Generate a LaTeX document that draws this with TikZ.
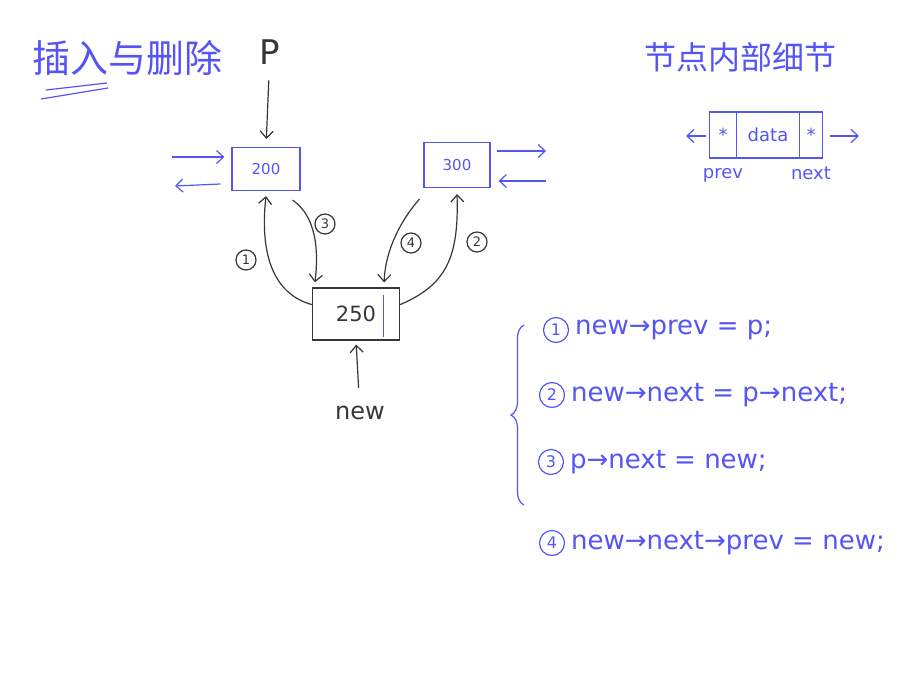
\documentclass[tikz,border=0pt]{standalone}
\usepackage{fontspec}
\setmainfont{DejaVu Sans}
\newfontfamily\cjkfont{Noto Sans CJK SC}
\usetikzlibrary{arrows.meta, positioning, calc, decorations.pathreplacing}
\definecolor{ink}{RGB}{85,85,245}
\definecolor{pencil}{RGB}{55,55,55}

\begin{document}
\begin{tikzpicture}[
  x=1pt, y=-1pt,
  >={Straight Barb[length=7pt,width=13pt]},
  line width=1.2pt,
  listbox/.style={
    draw=ink,
    text=ink,
    font=\fontsize{15}{17}\selectfont,
    minimum width=68pt,
    minimum height=43pt
  },
  newbox/.style={
    draw=pencil,
    text=pencil,
    font=\fontsize{21}{23}\selectfont,
    minimum width=87pt,
    minimum height=52pt
  },
  cell/.style={
    draw=ink,
    text=ink,
    font=\fontsize{18}{20}\selectfont,
    minimum height=46pt,
    inner sep=0pt,
    outer sep=0pt
  },
  stepmark/.style={circle, draw=pencil, text=pencil, inner sep=0pt, minimum size=20pt,
    font=\fontsize{13}{14}\selectfont},
  stepblue/.style={circle, draw=ink, text=ink, inner sep=0pt, minimum size=25pt,
    font=\fontsize{16}{17}\selectfont},
  code/.style={text=ink, anchor=west, font=\fontsize{26}{28}\selectfont},
  arrow/.style={->, draw=pencil},
  barrow/.style={->, draw=ink},
  note/.style={text=ink, font=\fontsize{18}{20}\selectfont}
]
\useasboundingbox[fill=white] (0,0) rectangle (918,683);

% 标题
\node[text=ink, font=\cjkfont\fontsize{38}{40}\selectfont] (title) at (127,58) {插入与删除};
\draw[ink] (46,90) -- (107,83);
\draw[ink] (41,99) -- (108,88);
\node[text=ink, font=\cjkfont\fontsize{32}{34}\selectfont] (detail) at (740,57) {节点内部细节};

% 三个节点
\node[listbox] (pnode) at (266,169) {200};
\node[listbox, minimum width=66pt, minimum height=45pt] (nextnode) at (457,165) {300};
\node[newbox] (newnode) at (356,314) {250\hspace{12pt}};
\draw[ink] ($(newnode.north east)+(-17,8)$) -- ($(newnode.south east)+(-17,-4)$);

% 指针 p 和 new
\node[text=pencil, font=\fontsize{34}{36}\selectfont] (plabel) at (270,52) {P};
\draw[arrow, shorten <=12pt, shorten >=8pt] (plabel) -- (pnode.north);
\node[text=pencil, font=\fontsize{24}{26}\selectfont] (newlabel) at (360,413) {new};
\draw[arrow, shorten <=14pt, shorten >=4pt] (newlabel) -- (newnode.south);

% 左右两侧的链
\coordinate (lin) at (172,157);
\coordinate (lout) at (175,186);
\coordinate (rout) at (546,151);
\coordinate (rin) at (546,181);
\draw[barrow] (lin) -- ($(pnode.west)+(-7,-12)$);
\draw[barrow] ($(pnode.west)+(-11,15)$) -- (lout);
\draw[barrow] ($(nextnode.east)+(6,-14)$) -- (rout);
\draw[barrow] (rin) -- ($(nextnode.east)+(8,16)$);

% 四步连线
\draw[arrow] (newnode.168) .. controls (266,292) and (261,240) .. ($(pnode.south)+(0,5)$);
\draw[arrow] ($(pnode.south east)+(-8,9)$) .. controls (316,216) and (319,250) .. ($(newnode.north west)+(3,-5)$);
\draw[arrow] ($(nextnode.south west)+(-4,11)$) .. controls (396,226) and (385,256) .. ($(newnode.north east)+(-16,-5)$);
\draw[arrow] (newnode.12) .. controls (446,285) and (459,258) .. ($(nextnode.south)+(0,6)$);
\node[stepmark] (s1) at (246,260) {1};
\node[stepmark] (s3) at (325,224) {3};
\node[stepmark] (s4) at (411,243) {4};
\node[stepmark] (s2) at (477,242) {2};

% 节点内部细节
\node[cell, minimum width=63pt] (dcell) at (768,135) {data};
\node[cell, minimum width=27pt, left=0pt of dcell] (pcell) {*};
\node[cell, minimum width=23pt, right=0pt of dcell] (ncell) {*};
\coordinate (pend) at (686,136);
\coordinate (nend) at (859,136);
\draw[barrow] ($(pcell.west)+(-4,1)$) -- (pend);
\draw[barrow] ($(ncell.east)+(7,1)$) -- (nend);
\node[note, below=6pt of pcell] (prevlabel) {prev};
\node[note, below=5pt of ncell] (nextlabel) {next};

% 四条语句
\node[stepblue] (c1) at (556,330) {1};
\node[code, right=2pt of c1] (st1) {new→prev = p;};
\node[stepblue] (c2) at (552,395) {2};
\node[code, right=2pt of c2] (st2) {new→next = p→next;};
\node[stepblue] (c3) at (551,462) {3};
\node[code, right=2pt of c3] (st3) {p→next = new;};
\node[stepblue] (c4) at (552,543) {4};
\node[code, right=2pt of c4] (st4) {new→next→prev = new;};

\coordinate (btop) at (524,325);
\coordinate (bbot) at (524,505);
\draw[ink, decorate, decoration={brace, amplitude=13pt}] (bbot) -- (btop);

\end{tikzpicture}
\end{document}
